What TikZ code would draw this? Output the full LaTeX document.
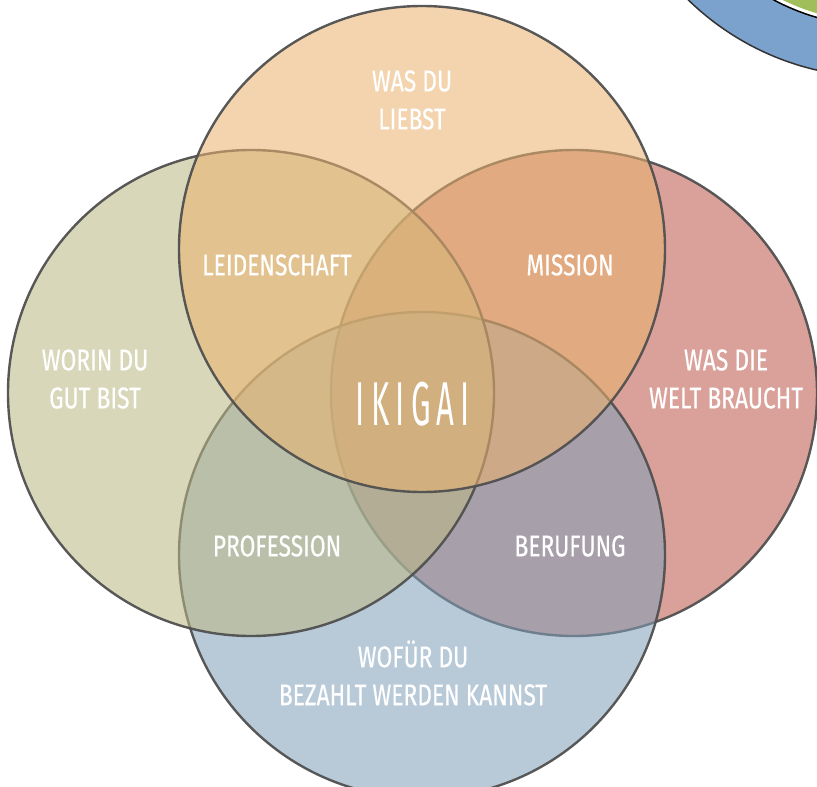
\documentclass[tikz,border=0pt]{standalone}
\usepackage{fontspec}
\setmainfont{Fira Sans}[FakeStretch=0.76,FakeBold=0.4]
\newfontfamily\ikifont{Fira Sans}[FakeStretch=0.5,LetterSpace=10]
\definecolor{ctop}{RGB}{234,178,110}
\definecolor{cleft}{RGB}{187,184,132}
\definecolor{cright}{RGB}{187,87,73}
\definecolor{cbottom}{RGB}{128,158,185}
\definecolor{cedge}{RGB}{80,80,80}
\definecolor{ringblue}{RGB}{122,162,205}
\definecolor{ringgreen}{RGB}{160,190,90}
\tikzset{
  circ/.style={circle, draw=cedge, line width=2.4pt, fill opacity=0.56, draw opacity=0.95, inner sep=0pt, minimum size=486pt},
  lbl/.style={text=white, font=\fontsize{30}{38}\selectfont, align=center, inner sep=0pt},
}
\begin{document}
\begin{tikzpicture}[x=1pt,y=-1pt]
\useasboundingbox (0,0) rectangle (817,787);
% fragment of another figure, top right
\begin{scope}
\clip (0,0) rectangle (817,787);
\fill[ringblue] (878,-195) circle (272);
\draw[black!80, line width=1.5pt] (878,-195) circle (272);
\draw[black, line width=1.5pt, fill=white] (878,-195) circle (221);
\fill[ringgreen] (878,-195) circle (217);
\end{scope}
% circles
\node[circ, fill=cright] (right) at (574,393) {};
\node[circ, fill=cbottom] (bottom) at (422,555) {};
\node[circ, fill=cleft] (left) at (251,393) {};
\node[circ, fill=ctop] (top) at (422,249) {};
% labels
\node[lbl] (liebst) at (412,100) {WAS DU\\LIEBST};
\node[lbl] (leid) at (277,265) {LEIDENSCHAFT};
\node[lbl] (mission) at (570,265) {MISSION};
\node[lbl] (gut) at (95,379) {WORIN DU\\GUT BIST};
\node[lbl] (welt) at (726,379) {WAS DIE\\WELT BRAUCHT};
\node[lbl] (prof) at (277,546) {PROFESSION};
\node[lbl] (beruf) at (570,546) {BERUFUNG};
\node[lbl] (bezahlt) at (413,673) {WOFÜR DU\\BEZAHLT WERDEN KANNST};
\node[text=white, inner sep=0pt, font=\ikifont\fontsize{62}{64}\selectfont] (ikigai) at (413,404) {IKIGAI};
\end{tikzpicture}
\end{document}
